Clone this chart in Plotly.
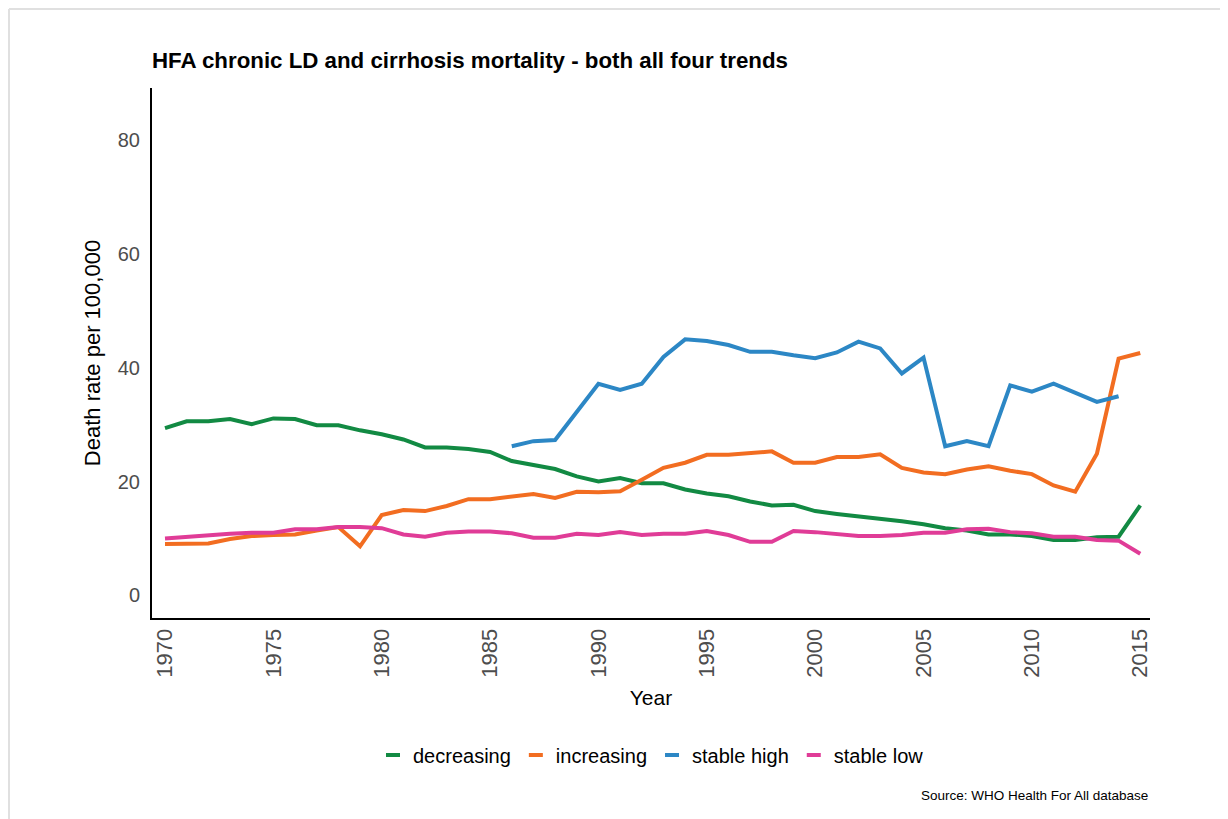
import plotly.graph_objects as go

years = list(range(1970, 2016))

decreasing = [29.4, 30.6, 30.6, 31.0, 30.1, 31.1, 31.0, 29.9, 29.9, 29.0,
              28.3, 27.4, 26.0, 26.0, 25.7, 25.2, 23.6, 22.9, 22.2, 20.9,
              20.0, 20.6, 19.7, 19.7, 18.6, 17.9, 17.4, 16.5, 15.8, 15.9,
              14.8, 14.3, 13.9, 13.5, 13.0, 12.5, 11.8, 11.4, 10.7, 10.7,
              10.4, 9.7, 9.7, 10.2, 10.3, 15.8]

increasing = [9.0, 9.0, 9.1, 9.9, 10.4, 10.6, 10.7, 11.4, 12.0, 8.6,
              14.1, 15.0, 14.8, 15.7, 16.9, 16.9, 17.4, 17.8, 17.1, 18.2,
              18.1, 18.3, 20.3, 22.4, 23.3, 24.7, 24.7, 25.0, 25.3, 23.3,
              23.3, 24.3, 24.3, 24.8, 22.4, 21.6, 21.3, 22.1, 22.7, 21.9,
              21.3, 19.3, 18.2, 24.9, 41.6, 42.6]

high_years = list(range(1986, 2015))
stable_high = [26.2, 27.1, 27.3, 32.2, 37.2, 36.1, 37.2, 41.9, 45.0, 44.7,
               44.0, 42.8, 42.8, 42.2, 41.7, 42.7, 44.6, 43.4, 39.0, 41.8,
               26.2, 27.1, 26.2, 36.9, 35.8, 37.2, 35.6, 34.0, 35.0]

stable_low = [10.0, 10.3, 10.6, 10.8, 11.0, 11.0, 11.6, 11.6, 12.0, 12.0,
              11.8, 10.7, 10.3, 11.0, 11.2, 11.2, 10.9, 10.1, 10.1, 10.8,
              10.6, 11.1, 10.6, 10.8, 10.8, 11.3, 10.6, 9.4, 9.4, 11.3,
              11.1, 10.8, 10.4, 10.4, 10.6, 11.0, 11.0, 11.6, 11.7, 11.1,
              10.9, 10.3, 10.3, 9.7, 9.6, 7.3]

series = [
    ("decreasing", years, decreasing, "#128A43"),
    ("increasing", years, increasing, "#F26D21"),
    ("stable high", high_years, stable_high, "#2C87C5"),
    ("stable low", years, stable_low, "#E03C97"),
]

fig = go.Figure()
for name, x, y, color in series:
    fig.add_trace(
        go.Scatter(
            x=x,
            y=y,
            mode="lines",
            name=name,
            line=dict(color=color, width=4),
            showlegend=False,
        )
    )
    # legend-only entry with a short swatch
    fig.add_trace(
        go.Scatter(
            x=[None],
            y=[None],
            mode="markers",
            name=name,
            marker=dict(symbol="line-ew", size=10, line=dict(color=color, width=4)),
        )
    )

# the page body has an 8px margin, so everything is placed 8px up/left
fig.update_layout(
    width=1228,
    height=819,
    margin=dict(l=144, r=86, t=80, b=209),
    paper_bgcolor="white",
    plot_bgcolor="white",
    font=dict(family="Liberation Sans, Arial", color="black"),
    title=dict(
        text="<b>HFA chronic LD and cirrhosis mortality - both all four trends</b>",
        x=144 / 1228,
        xanchor="left",
        y=1 - 52 / 819,
        yanchor="middle",
        font=dict(size=22.3, color="black"),
    ),
    xaxis=dict(
        range=[1969.4, 2015.45],
        tickvals=[1970, 1975, 1980, 1985, 1990, 1995, 2000, 2005, 2010, 2015],
        tickangle=-90,
        tickfont=dict(size=22, color="#4d4d4d"),
        showgrid=False,
        zeroline=False,
        showline=True,
        linecolor="black",
        linewidth=2,
        ticks="",
        title=dict(text="Year", font=dict(size=21, color="black"), standoff=14),
    ),
    yaxis=dict(
        range=[-4, 89.2],
        tickvals=[0, 20, 40, 60, 80],
        tickfont=dict(size=20, color="#4d4d4d"),
        showgrid=False,
        zeroline=False,
        showline=True,
        linecolor="black",
        linewidth=2,
        ticks="outside",
        ticklen=6,
        tickcolor="white",
        title=dict(text="Death rate per 100,000", font=dict(size=22, color="black"), standoff=11),
    ),
    legend=dict(
        orientation="h",
        x=0.5,
        xanchor="center",
        y=-(755 - 618) / 530,
        yanchor="middle",
        font=dict(size=20, color="black"),
        itemwidth=30,
        tracegroupgap=0,
    ),
    annotations=[
        dict(
            text="Source: WHO Health For All database",
            xref="paper",
            yref="paper",
            x=1.0,
            xanchor="right",
            y=-(795 - 618) / 530,
            yanchor="middle",
            showarrow=False,
            font=dict(size=13.5, color="black"),
        )
    ],
    shapes=[
        dict(type="line", xref="paper", yref="paper",
             x0=-143 / 998, x1=1.1, y0=1 + 79 / 530, y1=1 + 79 / 530,
             line=dict(color="#e0e0e0", width=2)),
        dict(type="line", xref="paper", yref="paper",
             x0=-143 / 998, x1=-143 / 998, y0=1 + 79 / 530, y1=-0.4,
             line=dict(color="#e0e0e0", width=2)),
    ],
)

fig.write_html("out.html")
